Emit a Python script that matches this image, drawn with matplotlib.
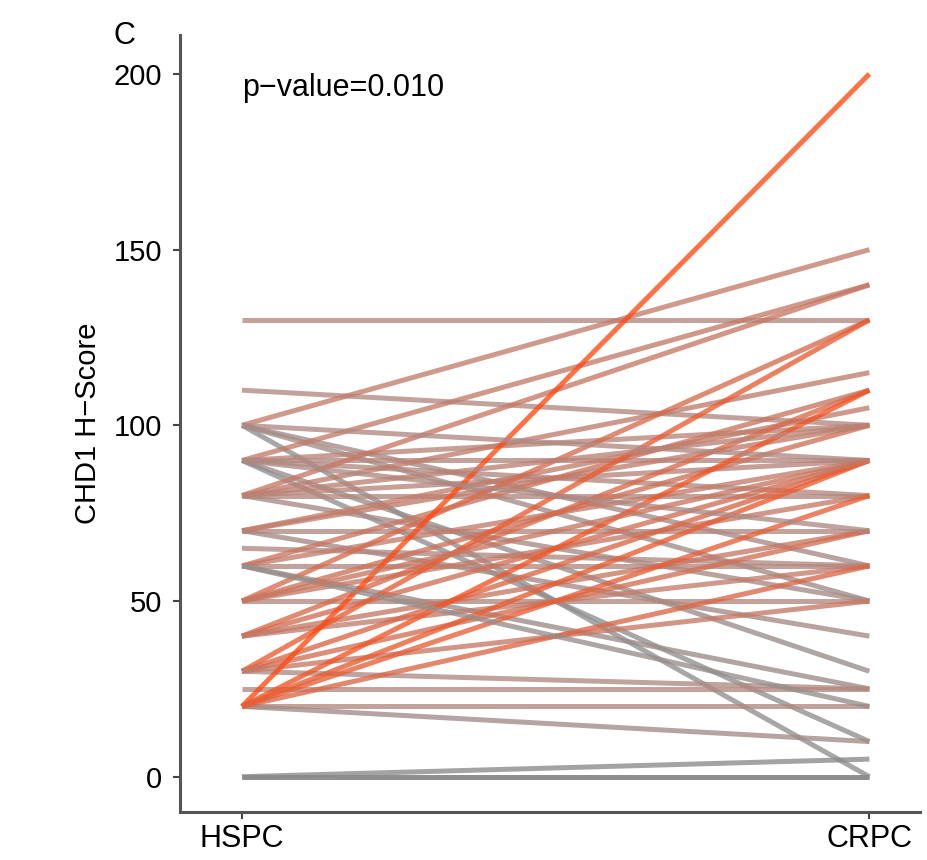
import numpy as np
import matplotlib
matplotlib.use('Agg')
from matplotlib import pyplot as plt
from matplotlib.colors import LinearSegmentedColormap, Normalize

# paired H-scores, one entry per patient
hspc = [130, 110, 100, 100, 100, 100, 90, 90, 90, 90, 90, 90, 80, 80, 80, 80, 80,
        70, 70, 70, 70, 65, 60, 60, 60, 60, 50, 50, 50, 50, 40, 40, 40, 40,
        30, 30, 30, 30, 30, 25, 20, 20, 20, 20, 20, 20, 20, 0, 0, 0,
        100, 90, 60, 80, 50]
crpc = [130, 100, 150, 0, 60, 50, 140, 10, 90, 80, 30, 100, 140, 80, 50, 90, 115,
        70, 100, 40, 105, 60, 60, 90, 110, 25, 50, 130, 80, 100, 90, 70, 110, 60,
        130, 90, 70, 25, 50, 25, 200, 110, 90, 20, 10, 60, 80, 0, 5, 0,
        90, 70, 20, 100, 90]
groups = ['HSPC', 'CRPC']
p_text = 'p\u2212value=0.010'

plt.rcParams['font.family'] = ['Liberation Sans', 'DejaVu Sans']

fig = plt.figure(figsize=(9.27, 8.6), dpi=100)
ax = fig.add_axes([0.194, 0.056, 0.798, 0.903])

# grey for falling scores, dusty rose for flat, orange-red for rising
cmap = LinearSegmentedColormap.from_list(
    'gr_or', [(0.0, '#8e8e8e'), (0.4, '#b38880'), (1.0, '#ff4a12')])
norm = Normalize(vmin=-2.0, vmax=3.0, clip=True)

for h, c in zip(hspc, crpc):
    if h == 0:
        col = '#8a8a8a'  # change undefined
    else:
        col = cmap(norm(np.log2(c / h) if c > 0 else -5))
    ax.plot([1, 2], [h, c], color=col, lw=3.6, alpha=0.78, solid_capstyle='butt')

ax.set_xlim(0.901, 2.08)
ax.set_ylim(-10, 211)
ax.set_xticks([1, 2])
ax.set_xticklabels(groups, fontsize=22)
ax.set_yticks([0, 50, 100, 150, 200])
ax.tick_params(axis='y', labelsize=21, length=5, width=1.5, color='#444444', pad=8)
ax.tick_params(axis='x', length=5, width=1.5, color='#444444', pad=4)
ax.set_ylabel('CHD1 H\u2212Score', fontsize=21, labelpad=8)

for s in ['top', 'right']:
    ax.spines[s].set_visible(False)
for s in ['left', 'bottom']:
    ax.spines[s].set_linewidth(2.2)
    ax.spines[s].set_color('#555555')

ax.text(1.0, 196, p_text, fontsize=22, ha='left', va='center')
fig.text(0.122, 0.958, 'C', fontsize=22, ha='left', va='center')

fig.savefig('out.png', dpi=100)
